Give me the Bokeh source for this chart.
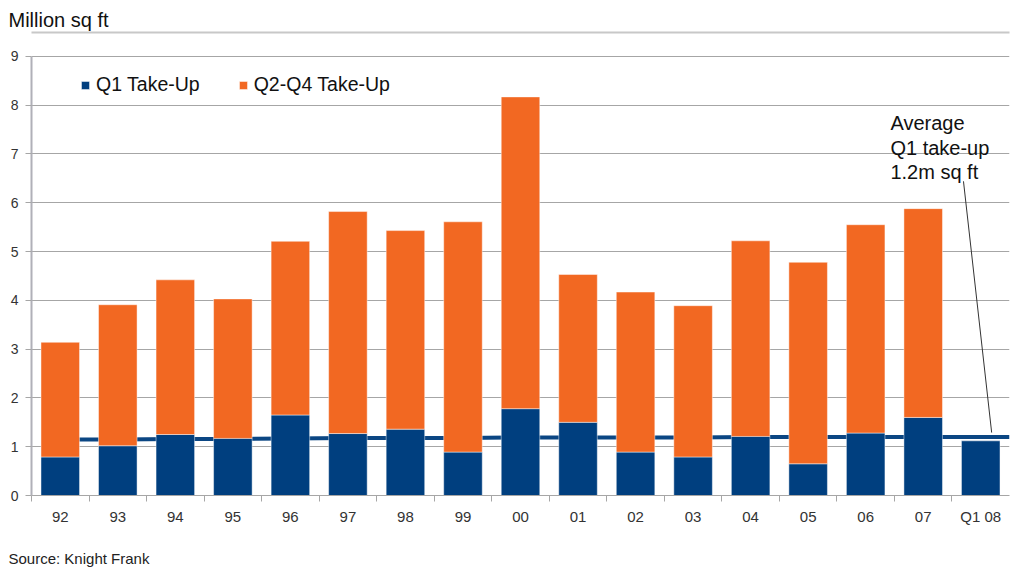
from bokeh.plotting import figure
from bokeh.models import (Range1d, FixedTicker, LinearAxis, Legend, LegendItem,
                          Label, ColumnDataSource, Title)
from bokeh.embed import file_html
from bokeh.resources import INLINE

# ---------------- data ----------------
years = ["92", "93", "94", "95", "96", "97", "98", "99", "00", "01",
         "02", "03", "04", "05", "06", "07", "Q1 08"]
q1_takeup = [0.79, 1.02, 1.25, 1.17, 1.65, 1.27, 1.36, 0.89, 1.78, 1.50,
             0.89, 0.79, 1.21, 0.65, 1.28, 1.60, 1.12]
q2q4_takeup = [2.35, 2.89, 3.17, 2.86, 3.56, 4.55, 4.07, 4.72, 6.39, 3.03,
               3.28, 3.10, 4.01, 4.13, 4.27, 4.28, None]
avg_q1 = [1.15, 1.15, 1.16, 1.16, 1.17, 1.18, 1.18, 1.18, 1.19, 1.19,
          1.19, 1.19, 1.20, 1.20, 1.20, 1.20, 1.20]
y_ticks = [0, 1, 2, 3, 4, 5, 6, 7, 8, 9]

BLUE = "#003F7F"
ORANGE = "#F26822"
FONT = "Liberation Sans"

xs = list(range(len(years)))
q1_src = ColumnDataSource(dict(x=xs, top=q1_takeup))
ox, obot, otop = [], [], []
for i, (a, b) in enumerate(zip(q1_takeup, q2q4_takeup)):
    if b is not None:
        ox.append(i)
        obot.append(a)
        otop.append(a + b)
q24_src = ColumnDataSource(dict(x=ox, bottom=obot, top=otop))

x_start, x_end = -0.5, len(years) - 0.5
p = figure(width=1011, height=567, output_backend="svg", toolbar_location=None,
           x_range=Range1d(x_start, x_end), y_range=Range1d(0, 9.49),
           min_border_left=31, min_border_right=2, min_border_top=32,
           min_border_bottom=72)
p.outline_line_color = None
p.background_fill_color = "white"

# title & source
p.title.text = "Million sq ft"
p.title.align = "left"
p.title.offset = -23
p.title.text_font = FONT
p.title.text_font_size = "20px"
p.title.text_font_style = "normal"
p.title.text_color = "#111111"
p.title.standoff = 4

src_title = Title(text="Source: Knight Frank", align="left", offset=-23,
                  text_font=FONT, text_font_size="15px", text_font_style="normal",
                  text_color="#222222", standoff=2)
p.add_layout(src_title, "below")

# average line (behind bars)
line_x = xs + [x_end]
line_y = avg_q1 + [avg_q1[-1]]
p.line(line_x, line_y, line_color="#0B4683", line_width=4)

r1 = p.vbar(x="x", top="top", bottom=0, width=0.67, source=q1_src,
            fill_color=BLUE, line_color="white", line_alpha=0.45, line_width=1)
r2 = p.vbar(x="x", top="top", bottom="bottom", width=0.67, source=q24_src,
            fill_color=ORANGE, line_color="white", line_alpha=0.45, line_width=1)

# axes
p.xgrid.visible = False
p.ygrid.grid_line_color = "#A6A6A6"
p.ygrid.grid_line_width = 1
p.ygrid.ticker = FixedTicker(ticks=y_ticks)

yax = p.yaxis[0]
yax.ticker = FixedTicker(ticks=y_ticks)
yax.bounds = (0, 9)
yax.axis_line_color = "#B0B0B8"
yax.axis_line_width = 2
yax.major_tick_line_color = "#A6A6A6"
yax.major_tick_out = 6
yax.major_tick_in = 0
yax.minor_tick_line_color = None
yax.major_label_text_font = FONT
yax.major_label_text_font_size = "14px"
yax.major_label_text_color = "#333333"
yax.major_label_standoff = 7

xax = p.xaxis[0]
xax.ticker = FixedTicker(ticks=xs, minor_ticks=[i - 0.5 for i in range(len(years))])
xax.major_label_overrides = {i: lab for i, lab in enumerate(years)}
xax.axis_line_color = "#A6A6A6"
xax.axis_line_width = 1
xax.major_tick_out = 0
xax.major_tick_in = 0
xax.minor_tick_out = 6
xax.minor_tick_in = 0
xax.minor_tick_line_color = "#A6A6A6"
xax.major_label_text_font = FONT
xax.major_label_text_font_size = "15px"
xax.major_label_text_color = "#333333"
xax.major_label_standoff = 6
xax.axis_label = " "
xax.axis_label_text_font_size = "10px"
xax.axis_label_standoff = 5

top_axis = LinearAxis(ticker=FixedTicker(ticks=[]), axis_line_color="#C8C8C8",
                      axis_line_width=2, major_tick_line_color=None,
                      minor_tick_line_color=None, major_label_text_font_size="0px",
                      major_label_standoff=0)
p.add_layout(top_axis, "above")

# legend
legend = Legend(items=[LegendItem(label="Q1 Take-Up", renderers=[r1]),
                       LegendItem(label="Q2-Q4 Take-Up", renderers=[r2])],
                orientation="horizontal", location=(49, 399),
                margin=0, padding=4, spacing=38,
                glyph_width=10, glyph_height=10, label_height=10,
                label_standoff=6,
                label_text_font=FONT, label_text_font_size="19.5px",
                label_text_color="#111111",
                border_line_color=None, background_fill_alpha=0)
p.add_layout(legend)

# annotation
note_lines = ["Average", "Q1 take-up", "1.2m sq ft"]
note_y = [7.63, 7.13, 6.64]
for t, yy in zip(note_lines, note_y):
    p.add_layout(Label(x=14.43, y=yy, text=t, text_font=FONT,
                       text_font_size="20px", text_color="#111111",
                       text_baseline="middle"))
p.segment(x0=[15.70], y0=[6.44], x1=[16.19], y1=[1.29],
          line_color="#333333", line_width=1)

open("out.html", "w").write(file_html(p, INLINE))
